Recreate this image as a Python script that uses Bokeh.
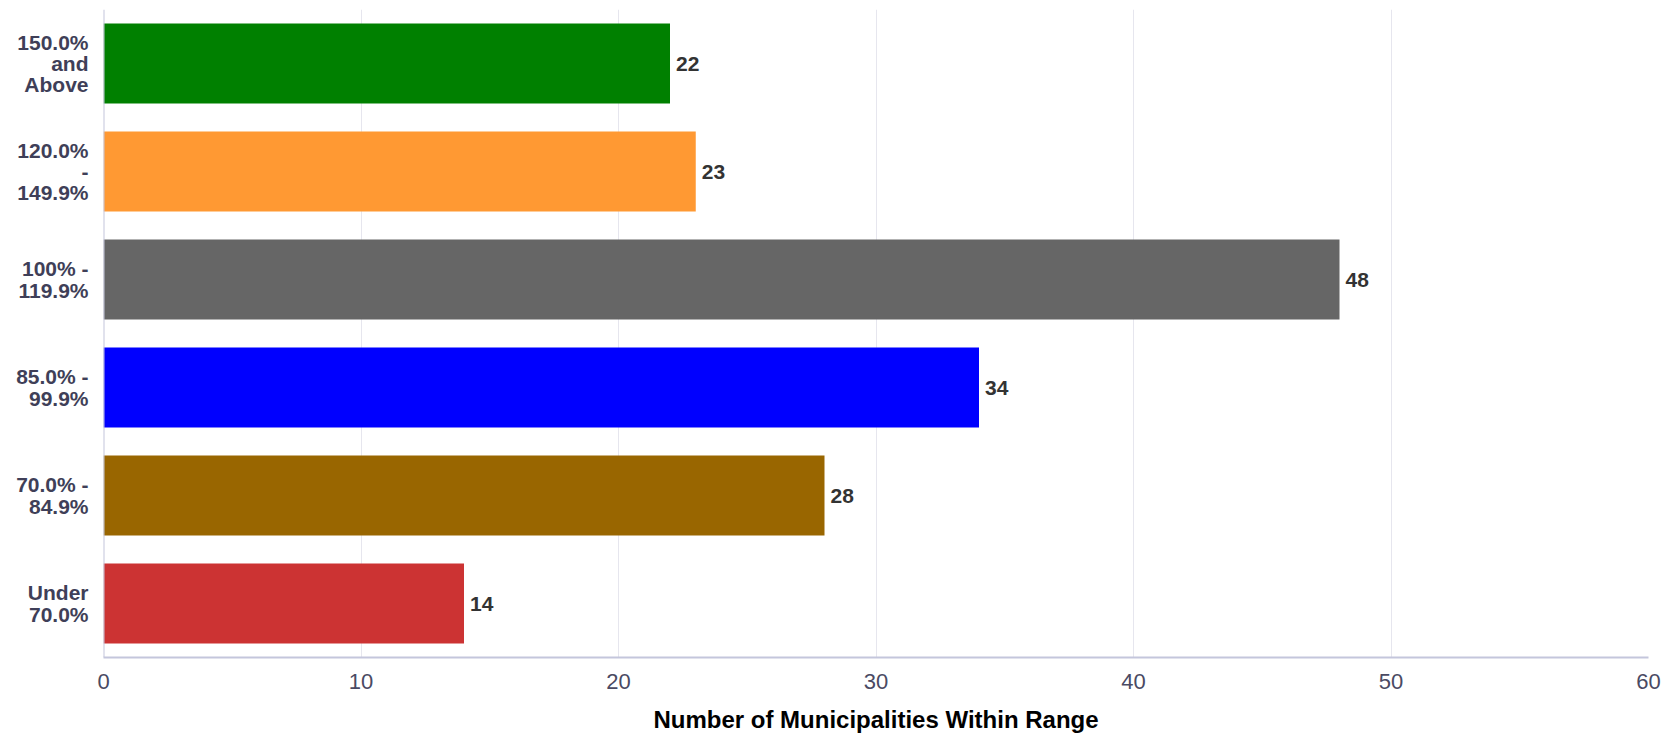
from bokeh.plotting import figure
from bokeh.layouts import row
from bokeh.models import ColumnDataSource, Range1d, FactorRange, LabelSet, Span
from bokeh.core.properties import value
from bokeh.embed import file_html
from bokeh.resources import INLINE

# Data (bottom to top)
categories = ["Under 70.0%", "70.0% - 84.9%", "85.0% - 99.9%",
              "100% - 119.9%", "120.0% - 149.9%", "150.0% and Above"]
tick_labels = [["Under", "70.0%"], ["70.0% -", "84.9%"], ["85.0% -", "99.9%"],
               ["100% -", "119.9%"], ["120.0%", "-", "149.9%"], ["150.0%", "and", "Above"]]
counts = [14, 28, 34, 48, 23, 22]
colors = ["#cc3333", "#996600", "#0000ff", "#666666", "#ff9933", "#008000"]
x_ticks = [0, 10, 20, 30, 40, 50, 60]

FONT = "Liberation Sans"
LINE_H = 21.3

src = ColumnDataSource(dict(cat=categories, val=counts, color=colors,
                            lbl=[str(v) for v in counts]))

y_range = FactorRange(factors=categories, range_padding=0)

# ---- left label panel ----
lx, ly, lt, lo = [], [], [], []
for cat, lines in zip(categories, tick_labels):
    n = len(lines)
    for j, line in enumerate(lines):
        lx.append(1)
        ly.append(cat)
        lt.append(line)
        lo.append((j - (n - 1) / 2) * LINE_H)
lsrc = ColumnDataSource(dict(x=lx, y=ly, text=lt, yo=lo))

pl = figure(width=89, height=738, output_backend="svg", toolbar_location=None,
            y_range=y_range, x_range=Range1d(0, 1),
            min_border_left=0, min_border_right=0, min_border_top=9,
            min_border_bottom=81)
pl.axis.visible = False
pl.grid.visible = False
pl.outline_line_color = None
pl.border_fill_color = "white"
pl.text(x="x", y="y", text="text", y_offset="yo", source=lsrc, x_offset=-1,
        text_align="right", text_baseline="middle",
        text_font=value(FONT), text_font_size="21px", text_font_style="bold",
        text_color="#3f3f58")

# ---- main chart ----
p = figure(width=1584, height=738, output_backend="svg", toolbar_location=None,
           y_range=y_range, x_range=Range1d(0, 60),
           min_border_left=14, min_border_right=25, min_border_top=9,
           min_border_bottom=81)
p.outline_line_color = None
p.background_fill_color = "white"
p.border_fill_color = "white"

p.hbar(y="cat", right="val", left=0, height=0.74, color="color", line_color=None, source=src)

labels = LabelSet(x="val", y="cat", text="lbl", source=src, x_offset=6,
                  text_baseline="middle", text_align="left",
                  text_font=value(FONT), text_font_size="21px", text_font_style="bold",
                  text_color="#333333")
p.add_layout(labels)

# x axis
p.xaxis.ticker = x_ticks
p.xaxis.axis_label = "Number of Municipalities Within Range"
p.xaxis.axis_label_text_font = FONT
p.xaxis.axis_label_text_font_size = "24px"
p.xaxis.axis_label_text_font_style = "bold"
p.xaxis.axis_label_text_color = "#000000"
p.xaxis.axis_label_standoff = 14
p.xaxis.major_label_text_font = FONT
p.xaxis.major_label_text_font_size = "22px"
p.xaxis.major_label_text_color = "#4a4a63"
p.xaxis.major_label_standoff = 10
p.xaxis.major_tick_line_color = None
p.xaxis.minor_tick_line_color = None
p.xaxis.axis_line_color = "#c4c6dc"
p.xaxis.axis_line_width = 2

# y axis: line only
p.yaxis.visible = False
p.add_layout(Span(location=0, dimension="height", line_color="#c4c6dc", line_width=2))

p.xgrid.grid_line_color = "#e6e6ee"
p.xgrid.grid_line_width = 1
p.ygrid.grid_line_color = None

layout = row(pl, p, spacing=0)
open("out.html", "w").write(file_html(layout, INLINE))
